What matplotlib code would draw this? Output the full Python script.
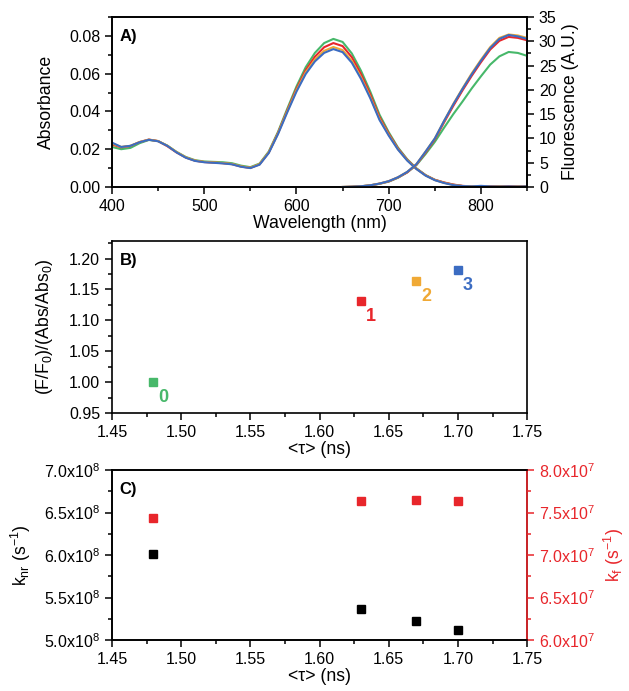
import matplotlib
matplotlib.use("Agg")
import matplotlib.pyplot as plt
from matplotlib.ticker import MultipleLocator, FuncFormatter

plt.rcParams["font.family"] = ["Liberation Sans", "DejaVu Sans"]
plt.rcParams["mathtext.fontset"] = "custom"
plt.rcParams["mathtext.rm"] = "Liberation Sans"
plt.rcParams["mathtext.it"] = "Liberation Sans:italic"
plt.rcParams["mathtext.bf"] = "Liberation Sans:bold"

# panel A: absorbance (10 nm grid) and fluorescence (10 nm grid)
#
wl_abs = list(range(400, 851, 10))
abs_blue = [0.0235, 0.0212, 0.0218, 0.0237, 0.0250, 0.0242, 0.0218, 0.0183, 0.0155, 0.0138,
            0.0131, 0.0128, 0.0125, 0.0120, 0.0107, 0.0100, 0.0118, 0.0180, 0.0280, 0.0395,
            0.0505, 0.0598, 0.0665, 0.0710, 0.0730, 0.0714, 0.0658, 0.0572, 0.0470, 0.0355,
            0.0272, 0.0198, 0.0140, 0.0095, 0.0060, 0.0036, 0.0021, 0.0010, 0.0005, 0.0003,
            0.0006, 0.0003, 0.0002, 0.0003, 0.0002, 0.0003]
abs_orange = [0.0230, 0.0212, 0.0218, 0.0238, 0.0251, 0.0243, 0.0219, 0.0185, 0.0157, 0.0140,
              0.0133, 0.0130, 0.0127, 0.0122, 0.0109, 0.0102, 0.0121, 0.0183, 0.0284, 0.0400,
              0.0512, 0.0607, 0.0675, 0.0721, 0.0741, 0.0725, 0.0668, 0.0581, 0.0477, 0.0361,
              0.0276, 0.0200, 0.0142, 0.0096, 0.0061, 0.0037, 0.0022, 0.0011, 0.0005, 0.0003,
              0.0005, 0.0003, 0.0003, 0.0002, 0.0003, 0.0002]
abs_red = [0.0225, 0.0210, 0.0217, 0.0238, 0.0251, 0.0243, 0.0216, 0.0183, 0.0156, 0.0139,
           0.0132, 0.0129, 0.0126, 0.0121, 0.0108, 0.0101, 0.0120, 0.0183, 0.0286, 0.0405,
           0.0520, 0.0618, 0.0690, 0.0740, 0.0762, 0.0746, 0.0687, 0.0597, 0.0490, 0.0370,
           0.0282, 0.0204, 0.0144, 0.0097, 0.0062, 0.0038, 0.0024, 0.0013, 0.0006, 0.0003,
           0.0004, 0.0005, 0.0003, 0.0004, 0.0003, 0.0003]
abs_green = [0.0212, 0.0200, 0.0207, 0.0232, 0.0249, 0.0243, 0.0219, 0.0186, 0.0159, 0.0142,
             0.0135, 0.0133, 0.0131, 0.0126, 0.0113, 0.0105, 0.0124, 0.0188, 0.0292, 0.0414,
             0.0532, 0.0634, 0.0710, 0.0762, 0.0784, 0.0768, 0.0707, 0.0615, 0.0505, 0.0383,
             0.0290, 0.0209, 0.0147, 0.0099, 0.0063, 0.0038, 0.0023, 0.0012, 0.0005, 0.0003,
             0.0005, 0.0003, 0.0004, 0.0003, 0.0002, 0.0004]

wl_fl = list(range(650, 851, 10))
fl_blue = [0.0, 0.05, 0.15, 0.35, 0.7, 1.2, 2.0, 3.1, 4.7, 7.3, 10.0,
           13.6, 17.0, 20.2, 23.2, 26.0, 28.6, 30.5, 31.3, 31.0, 30.5]
fl_orange = [0.0, 0.05, 0.15, 0.35, 0.7, 1.2, 2.0, 3.1, 4.7, 7.3, 10.0,
             13.6, 17.1, 20.3, 23.4, 26.2, 28.8, 30.7, 31.4, 31.2, 30.7]
fl_red = [0.0, 0.05, 0.14, 0.33, 0.68, 1.15, 1.95, 3.0, 4.6, 7.1, 9.8,
          13.3, 16.7, 19.9, 22.9, 25.7, 28.3, 30.1, 30.9, 30.7, 30.2]
fl_green = [0.0, 0.05, 0.15, 0.33, 0.65, 1.1, 1.9, 3.0, 4.5, 6.8, 9.3,
            12.2, 15.0, 17.6, 20.3, 22.8, 25.2, 26.9, 27.8, 27.6, 27.0]

# panels B and C
#
tau = [1.48, 1.63, 1.67, 1.70]
rel_brightness = [1.000, 1.131, 1.163, 1.181]
point_labels = ["0", "1", "2", "3"]
k_nr = [6.01e8, 5.37e8, 5.22e8, 5.12e8]
k_f = [7.43e7, 7.63e7, 7.65e7, 7.64e7]

GREEN = "#47b86a"
RED = "#e8262b"
ORANGE = "#f0a935"
BLUE = "#3b6cc2"
point_colors = [GREEN, RED, ORANGE, BLUE]

TICK_FS = 11.5
LABEL_FS = 12.7

fig = plt.figure(figsize=(6.29, 6.91), dpi=100)

AX_LEFT = 0.178
AX_WIDTH = 0.660


def style_axis(ax):
  ax.tick_params(which="both", direction="out", labelsize=TICK_FS, top=False)
  ax.tick_params(which="major", length=5, width=1.1)
  ax.tick_params(which="minor", length=3, width=1.1)
  for sp in ax.spines.values():
    sp.set_linewidth(1.2)


# panel A
#
axA = fig.add_axes([AX_LEFT, 0.7294, AX_WIDTH, 0.246])
axA2 = axA.twinx()
for y, c in [(abs_green, GREEN), (abs_red, RED), (abs_orange, ORANGE), (abs_blue, BLUE)]:
  axA.plot(wl_abs, y, color=c, linewidth=1.5)
for y, c in [(fl_green, GREEN), (fl_red, RED), (fl_orange, ORANGE), (fl_blue, BLUE)]:
  axA2.plot(wl_fl, y, color=c, linewidth=1.5)

axA.set_xlim(400, 850)
axA.set_ylim(0, 0.09)
axA2.set_ylim(0, 35)
axA.xaxis.set_major_locator(MultipleLocator(100))
axA.xaxis.set_minor_locator(MultipleLocator(50))
axA.yaxis.set_major_locator(MultipleLocator(0.02))
axA.yaxis.set_minor_locator(MultipleLocator(0.01))
axA.yaxis.set_major_formatter(FuncFormatter(lambda v, p: f"{v:.2f}"))
axA2.yaxis.set_major_locator(MultipleLocator(5))
axA2.yaxis.set_minor_locator(MultipleLocator(2.5))
style_axis(axA)
style_axis(axA2)
axA.set_xlabel("Wavelength (nm)", fontsize=LABEL_FS, labelpad=1)
axA.set_ylabel("Absorbance", fontsize=LABEL_FS, labelpad=10)
axA2.set_ylabel("Fluorescence (A.U.)", fontsize=LABEL_FS, labelpad=4)
axA.text(0.019, 0.93, "A)", transform=axA.transAxes, fontsize=12, fontweight="bold", va="top")

# panel B
#
axB = fig.add_axes([AX_LEFT, 0.4023, AX_WIDTH, 0.249])
for x, y, lab, c in zip(tau, rel_brightness, point_labels, point_colors):
  axB.plot(x, y, "s", color=c, markersize=5.5)
  axB.annotate(lab, (x, y), xytext=(10, -15), textcoords="offset pixels",
               color=c, fontsize=13, fontweight="bold", ha="center", va="center")
axB.set_xlim(1.45, 1.75)
axB.set_ylim(0.95, 1.2285)
axB.xaxis.set_major_locator(MultipleLocator(0.05))
axB.xaxis.set_minor_locator(MultipleLocator(0.025))
axB.yaxis.set_major_locator(MultipleLocator(0.05))
axB.yaxis.set_minor_locator(MultipleLocator(0.025))
axB.xaxis.set_major_formatter(FuncFormatter(lambda v, p: f"{v:.2f}"))
axB.yaxis.set_major_formatter(FuncFormatter(lambda v, p: f"{v:.2f}"))
style_axis(axB)
axB.tick_params(right=False)
axB.set_xlabel("<τ> (ns)", fontsize=LABEL_FS, labelpad=1)
axB.set_ylabel("(F/F$_0$)/(Abs/Abs$_0$)", fontsize=LABEL_FS, labelpad=10)
axB.text(0.019, 0.93, "B)", transform=axB.transAxes, fontsize=12, fontweight="bold", va="top")

# panel C
#
axC = fig.add_axes([AX_LEFT, 0.0738, AX_WIDTH, 0.246])
axC2 = axC.twinx()
axC.plot(tau, k_nr, "s", color="black", markersize=5.5, linestyle="none")
axC2.plot(tau, k_f, "s", color=RED, markersize=5.5, linestyle="none")
axC.set_xlim(1.45, 1.75)
axC.set_ylim(5.0e8, 7.0e8)
axC2.set_ylim(6.0e7, 8.0e7)
axC.xaxis.set_major_locator(MultipleLocator(0.05))
axC.xaxis.set_minor_locator(MultipleLocator(0.025))
axC.xaxis.set_major_formatter(FuncFormatter(lambda v, p: f"{v:.2f}"))
axC.yaxis.set_major_locator(MultipleLocator(0.5e8))
axC.yaxis.set_minor_locator(MultipleLocator(0.25e8))
axC.yaxis.set_major_formatter(FuncFormatter(lambda v, p: f"{v / 1e8:.1f}x10$^8$"))
axC2.yaxis.set_major_locator(MultipleLocator(0.5e7))
axC2.yaxis.set_minor_locator(MultipleLocator(0.25e7))
axC2.yaxis.set_major_formatter(FuncFormatter(lambda v, p: f"{v / 1e7:.1f}x10$^7$"))
style_axis(axC)
style_axis(axC2)
axC2.tick_params(which="both", colors=RED)
axC2.spines["right"].set_color(RED)
axC.set_xlabel("<τ> (ns)", fontsize=LABEL_FS, labelpad=1)
axC.set_ylabel("k$_\\mathrm{nr}$ (s$^{-1}$)", fontsize=LABEL_FS, labelpad=8)
axC2.set_ylabel("k$_\\mathrm{f}$ (s$^{-1}$)", fontsize=LABEL_FS, color=RED, labelpad=5)
axC.text(0.019, 0.93, "C)", transform=axC.transAxes, fontsize=12, fontweight="bold", va="top")

fig.savefig("out.png", dpi=100)
